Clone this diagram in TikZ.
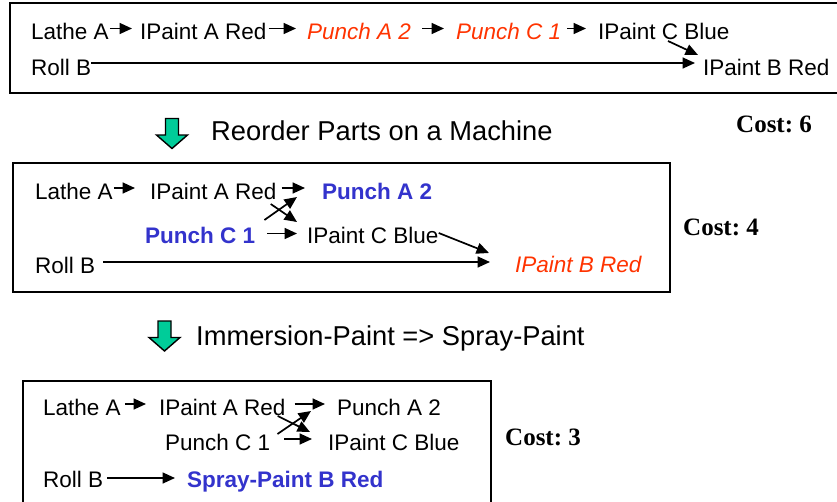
\documentclass[tikz,border=0pt]{standalone}
\usepackage{fontspec}
\setmainfont{Liberation Sans}
\newfontfamily\costfont{Liberation Serif}
\usetikzlibrary{arrows.meta}
\definecolor{flowred}{HTML}{FF3300}
\definecolor{flowblue}{HTML}{3333CC}
\definecolor{stepgreen}{HTML}{00CC99}
\frenchspacing
\begin{document}
\begin{tikzpicture}[x=1pt,y=-1pt,
  lbl/.style={anchor=base west, inner sep=0pt, font=\fontsize{22.5}{27}\selectfont},
  redit/.style={lbl, text=flowred, font=\fontsize{22.5}{27}\selectfont\itshape},
  bluebf/.style={lbl, text=flowblue, font=\fontsize{22.5}{27}\selectfont\bfseries},
  caption/.style={anchor=base west, inner sep=0pt, font=\fontsize{27.3}{32}\selectfont},
  cost/.style={anchor=base west, inner sep=0pt, font=\costfont\bfseries\fontsize{25}{30}\selectfont},
  frame/.style={draw, line width=2pt},
  arr/.style={line width=1.7pt, -{Triangle[length=12.5pt,width=11pt]}},
  greendown/.pic={
    \draw[fill=stepgreen, line width=1.4pt, line join=miter]
      (-6.5,0) -- (6.5,0) -- (6.5,16.5) -- (15.5,16.5) -- (0,30)
      -- (-15.5,16.5) -- (-6.5,16.5) -- cycle;
  }
]
\useasboundingbox (0,0) rectangle (837,501);
\clip (0,0) rectangle (837,501);

% ---------- first schedule ----------
\draw[frame] (10,3) rectangle (850,93);
\node[lbl]   (a1) at (31,39)  {Lathe A};
\node[lbl]   (b1) at (140,39) {IPaint A Red};
\node[redit] (c1) at (307,39) {Punch A 2};
\node[redit] (d1) at (456,39) {Punch C 1};
\node[lbl]   (e1) at (598,39) {IPaint C Blue};
\node[lbl]   (f1) at (31,75)  {Roll B};
\node[lbl]   (g1) at (703,75) {IPaint B Red};

\draw[arr] ([xshift=1pt,yshift=10.5pt]a1.base east) -- ([xshift=-8pt,yshift=10.5pt]b1.base west);
\draw[arr] ([xshift=2pt,yshift=10.5pt]b1.base east) -- ([xshift=-11pt,yshift=10.5pt]c1.base west);
\draw[arr] ([xshift=11pt,yshift=10.5pt]c1.base east) -- ([xshift=-12pt,yshift=10.5pt]d1.base west);
\draw[arr] ([xshift=6pt,yshift=10.5pt]d1.base east) -- ([xshift=-12pt,yshift=10.5pt]e1.base west);
\draw[arr] ([yshift=12pt]f1.base east) -- ([xshift=-8pt,yshift=12pt]g1.base west);
\draw[arr] ([xshift=70pt,yshift=-2pt]e1.base west) -- ([xshift=-5pt,yshift=20pt]g1.base west);

\node[cost] (cost6) at (736,132) {Cost: 6};

% ---------- step 1 ----------
\pic at (172,118.5) {greendown};
\node[caption] (step1) at (211,140) {Reorder Parts on a Machine};

% ---------- second schedule ----------
\draw[frame] (13,163) rectangle (670,292);
\node[lbl]    (a2) at (35,199)  {Lathe A};
\node[lbl]    (b2) at (150,199) {IPaint A Red};
\node[bluebf] (c2) at (322,199) {Punch A 2};
\node[bluebf] (d2) at (145,243) {Punch C 1};
\node[lbl]    (e2) at (307,243) {IPaint C Blue};
\node[lbl]    (f2) at (35,273)  {Roll B};
\node[redit]  (g2) at (515,272) {IPaint B Red};

\draw[arr] ([xshift=1pt,yshift=11pt]a2.base east) -- ([xshift=-15pt,yshift=11pt]b2.base west);
\draw[arr] ([xshift=5pt,yshift=11pt]b2.base east) -- ([xshift=-17pt,yshift=11pt]c2.base west);
\draw[arr] ([xshift=12pt,yshift=9.5pt]d2.base east) -- ([xshift=-10pt,yshift=9.5pt]e2.base west);
\draw[arr] ([xshift=9pt,yshift=23pt]d2.base east) -- ([xshift=-25pt,yshift=2pt]c2.base west);
\draw[arr] ([xshift=-6pt,yshift=-5pt]b2.base east) -- ([xshift=-10pt,yshift=21pt]e2.base west);
\draw[arr] ([yshift=10pt]e2.base east) -- ([xshift=-26pt,yshift=19pt]g2.base west);
\draw[arr] ([xshift=8pt,yshift=11pt]f2.base east) -- ([xshift=-25pt,yshift=10pt]g2.base west);

\node[cost] (cost4) at (683,235) {Cost: 4};

% ---------- step 2 ----------
\pic at (164.5,321) {greendown};
\node[caption] (step2) at (196,345) {Immersion-Paint => Spray-Paint};

% ---------- third schedule ----------
\draw[frame] (23,381) rectangle (491,520);
\node[lbl]    (a3) at (43,415)  {Lathe A};
\node[lbl]    (b3) at (159,415) {IPaint A Red};
\node[lbl]    (c3) at (337,415) {Punch A 2};
\node[lbl]    (d3) at (165,450) {Punch C 1};
\node[lbl]    (e3) at (328,450) {IPaint C Blue};
\node[lbl]    (f3) at (43,487)  {Roll B};
\node[bluebf] (g3) at (187,487) {Spray-Paint B Red};

\draw[arr] ([xshift=4pt,yshift=11pt]a3.base east) -- ([xshift=-13pt,yshift=11pt]b3.base west);
\draw[arr] ([xshift=9pt,yshift=11pt]b3.base east) -- ([xshift=-12pt,yshift=11pt]c3.base west);
\draw[arr] ([xshift=14pt,yshift=11pt]d3.base east) -- ([xshift=-16pt,yshift=11pt]e3.base west);
\draw[arr] ([xshift=7pt,yshift=16pt]d3.base east) -- ([xshift=-26pt,yshift=4pt]c3.base west);
\draw[arr] ([xshift=-8pt,yshift=-1pt]b3.base east) -- ([xshift=-18pt,yshift=18pt]e3.base west);
\draw[arr] ([xshift=4pt,yshift=9pt]f3.base east) -- ([xshift=-12pt,yshift=9pt]g3.base west);

\node[cost] (cost3) at (505,445) {Cost: 3};
\end{tikzpicture}
\end{document}
